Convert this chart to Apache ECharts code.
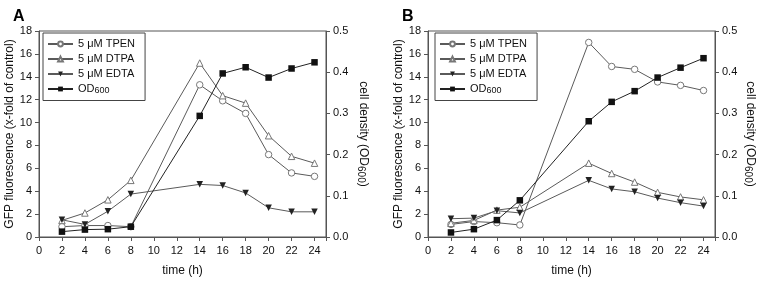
<!DOCTYPE html>
<html lang="en">
<head>
  <meta charset="UTF-8">
  <title>GFP fluorescence and cell density</title>
  <style>
    body { margin: 0; background: #fff; }
    #chart { width: 765px; height: 282px; }
  </style>
  <script src="https://cdn.jsdelivr.net/npm/echarts@6/dist/echarts.min.js"></script>
</head>
<body>
  <div id="chart"></div>
  <script>
    // ---------------------- data -------------------------
    const hours = [2, 4, 6, 8, 14, 16, 18, 20, 22, 24];
    const xTicks = [0, 2, 4, 6, 8, 10, 12, 14, 16, 18, 20, 22, 24];

    // panel A
    const tpenA = [0.9, 1.0, 1.0, 0.9, 13.3, 11.9, 10.8, 7.2, 5.6, 5.3];
    const dtpaA = [1.45, 2.1, 3.25, 4.95, 15.2, 12.35, 11.7, 8.85, 7.05, 6.45];
    const edtaA = [1.5, 1.1, 2.25, 3.75, 4.6, 4.5, 3.85, 2.55, 2.2, 2.2];
    const odA = [0.013, 0.018, 0.019, 0.025, 0.294, 0.397, 0.412, 0.387, 0.409, 0.424];

    // panel B
    const tpenB = [1.1, 1.35, 1.25, 1.05, 17.0, 14.9, 14.65, 13.55, 13.25, 12.8];
    const dtpaB = [1.2, 1.45, 2.35, 2.6, 6.45, 5.55, 4.8, 3.9, 3.5, 3.25];
    const edtaB = [1.6, 1.65, 2.3, 2.1, 4.95, 4.2, 3.95, 3.4, 3.0, 2.7];
    const odB = [0.011, 0.019, 0.041, 0.089, 0.281, 0.328, 0.354, 0.387, 0.411, 0.434];

    const seriesNames = ['5 \u03bcM TPEN', '5 \u03bcM DTPA', '5 \u03bcM EDTA', 'OD600'];

    // ---------------------- chart -------------------------
    const font = '"Liberation Sans", Arial, sans-serif';
    const axisColor = '#555';
    const pair = (xs, ys) => xs.map((x, i) => [x, ys[i]]);

    const chart = echarts.init(document.getElementById('chart'), null, { renderer: 'canvas' });

    function makeSeries(idx, tpen, dtpa, edta, od) {
      const base = {
        type: 'line',
        xAxisIndex: idx,
        symbolSize: 6.5,
        lineStyle: { width: 1, color: '#5a5a5a' },
        z: 3
      };
      return [
        Object.assign({}, base, {
          name: seriesNames[0], yAxisIndex: idx * 2,
          symbol: 'circle',
          itemStyle: { color: '#fff', borderColor: '#777', borderWidth: 1 },
          data: pair(hours, tpen)
        }),
        Object.assign({}, base, {
          name: seriesNames[1], yAxisIndex: idx * 2,
          symbol: 'triangle',
          itemStyle: { color: '#fff', borderColor: '#777', borderWidth: 1 },
          data: pair(hours, dtpa)
        }),
        Object.assign({}, base, {
          name: seriesNames[2], yAxisIndex: idx * 2,
          symbol: 'triangle', symbolRotate: 180,
          itemStyle: { color: '#222', borderColor: '#222', borderWidth: 0 },
          data: pair(hours, edta)
        }),
        Object.assign({}, base, {
          name: seriesNames[3], yAxisIndex: idx * 2 + 1,
          symbol: 'rect', symbolSize: 6.5,
          lineStyle: { width: 1, color: '#222' },
          itemStyle: { color: '#111', borderColor: '#111', borderWidth: 0 },
          z: 4,
          data: pair(hours, od)
        })
      ];
    }

    function xAxis(idx) {
      return {
        type: 'value', gridIndex: idx, min: 0, max: 25, interval: 2,
        name: 'time (h)', nameLocation: 'middle', nameGap: 28,
        nameTextStyle: { fontFamily: font, fontSize: 12, color: '#111' },
        axisLine: { lineStyle: { color: axisColor } },
        axisTick: { length: 4, lineStyle: { color: axisColor } },
        axisLabel: {
          fontFamily: font, fontSize: 11, color: '#111', margin: 8,
          formatter: v => (xTicks.indexOf(v) >= 0 ? String(v) : '')
        },
        splitLine: { show: false }
      };
    }

    function leftAxis(idx) {
      return {
        type: 'value', gridIndex: idx, position: 'left', min: 0, max: 18, interval: 2,
        name: 'GFP fluorescence (x-fold of control)', nameLocation: 'middle', nameGap: 22,
        nameTextStyle: { fontFamily: font, fontSize: 12, color: '#111' },
        axisLine: { show: true, lineStyle: { color: axisColor } },
        axisTick: { show: true, length: 4, lineStyle: { color: axisColor } },
        axisLabel: { fontFamily: font, fontSize: 11, color: '#111', margin: 7 },
        splitLine: { show: false }
      };
    }

    function rightAxis(idx, gap) {
      return {
        type: 'value', gridIndex: idx, position: 'right', min: 0, max: 0.5, interval: 0.1,
        name: 'cell density (OD{s|600})', nameLocation: 'middle', nameGap: gap, nameRotate: -90,
        nameTextStyle: {
          fontFamily: font, fontSize: 12, color: '#111',
          rich: { s: { fontFamily: font, fontSize: 10, color: '#111', padding: [5, 0, 0, 0] } }
        },
        axisLine: { show: true, lineStyle: { color: axisColor } },
        axisTick: { show: true, length: 4, lineStyle: { color: axisColor } },
        axisLabel: { fontFamily: font, fontSize: 11, color: '#111', margin: 7, formatter: v => v.toFixed(1) },
        splitLine: { show: false }
      };
    }

    function legend(left) {
      return {
        data: seriesNames,
        orient: 'vertical',
        left: left, top: 33,
        width: 90,
        padding: [5, 10, 5, 4],
        itemGap: 3,
        itemWidth: 25, itemHeight: 6,
        borderColor: '#444', borderWidth: 1,
        selectedMode: false,
        formatter: n => (n === 'OD600' ? 'OD{s|600}' : n),
        textStyle: {
          fontFamily: font, fontSize: 11, color: '#111', lineHeight: 12,
          rich: { s: { fontFamily: font, fontSize: 9, color: '#111', padding: [4, 0, 0, 0] } }
        }
      };
    }

    chart.setOption({
      animation: false,
      title: [
        { text: 'A', left: 8, top: 4, textStyle: { fontFamily: font, fontSize: 16, fontWeight: 'bold', color: '#000' } },
        { text: 'B', left: 397, top: 4, textStyle: { fontFamily: font, fontSize: 16, fontWeight: 'bold', color: '#000' } }
      ],
      grid: [
        { left: 39, right: 439, top: 31, bottom: 44, show: true, borderColor: axisColor, borderWidth: 1, backgroundColor: 'transparent' },
        { left: 428, right: 50, top: 31, bottom: 44, show: true, borderColor: axisColor, borderWidth: 1, backgroundColor: 'transparent' }
      ],
      legend: [legend(43), legend(435)],
      xAxis: [xAxis(0), xAxis(1)],
      yAxis: [leftAxis(0), rightAxis(0, 30), leftAxis(1), rightAxis(1, 28)],
      series: makeSeries(0, tpenA, dtpaA, edtaA, odA).concat(makeSeries(1, tpenB, dtpaB, edtaB, odB))
    });
  </script>
</body>
</html>
